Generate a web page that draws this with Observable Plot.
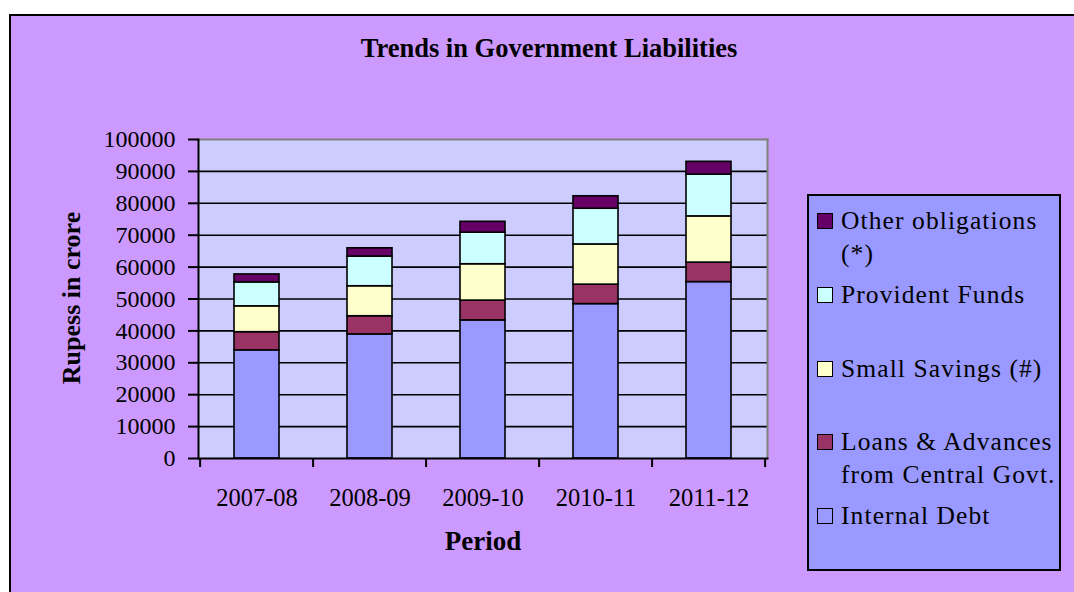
<!DOCTYPE html>
<html><head><meta charset="utf-8">
<script src="https://cdn.jsdelivr.net/npm/d3@7"></script>
<script src="https://cdn.jsdelivr.net/npm/@observablehq/plot@0.6"></script>
<style>
body{margin:0;background:#fff;width:1074px;height:592px;overflow:hidden;position:relative;font-family:"Liberation Serif","Times New Roman",serif;}
#frame{position:absolute;left:9px;top:14px;width:1080px;height:600px;background:#CC99FF;border-left:2px solid #000;border-top:2px solid #000;}
#chart{position:absolute;left:0;top:0;}
#chart svg{background:transparent;}
#legend{position:absolute;left:807px;top:194px;width:250px;height:373px;background:#9999FF;border:2px solid #000;box-sizing:content-box;}
.item{position:absolute;left:8px;font-family:"Liberation Serif","Times New Roman",serif;font-size:25.5px;letter-spacing:1.1px;line-height:33px;color:#000;white-space:nowrap;}
.sw{position:absolute;left:0;top:9px;width:14px;height:14px;border:1px solid #000;}
.lbl{position:absolute;left:24px;top:0;}
</style></head>
<body>
<div id="frame"></div>
<div id="chart"></div>
<div id="legend"></div>
<script>
const periods = ["2007-08", "2008-09", "2009-10", "2010-11", "2011-12"];
const seriesNames = ["Internal Debt", "Loans & Advances from Central Govt.", "Small Savings (#)", "Provident Funds", "Other obligations (*)"];
const legendLines = [["Internal Debt"], ["Loans & Advances", "from Central Govt."], ["Small Savings (#)"], ["Provident Funds"], ["Other obligations", "(*)"]];
const internalDebt = [33900, 38900, 43300, 48400, 55300];
const loansAdvances = [5700, 5700, 6200, 6100, 6100];
const smallSavings = [8100, 9400, 11400, 12600, 14500];
const providentFunds = [7500, 9300, 9900, 11200, 13100];
const otherObligations = [2500, 2600, 3400, 3900, 4000];
const yTicks = [0, 10000, 20000, 30000, 40000, 50000, 60000, 70000, 80000, 90000, 100000];
const colors = ["#9999FF", "#993366", "#FFFFCC", "#CCFFFF", "#660066"];

const seriesValues = [internalDebt, loansAdvances, smallSavings, providentFunds, otherObligations];
const table = [];
seriesNames.forEach((s, si) => periods.forEach((p, pi) => table.push({period: p, series: s, value: seriesValues[si][pi]})));

function boundaryTicks(index, scales, values, dims) {
  const g = d3.create("svg:g");
  const x = scales.x;
  const step = x(periods[1]) - x(periods[0]);
  const yb = dims.height - dims.marginBottom;
  const xs = periods.map(p => x(p) - 0.3 * step).concat([x(periods[periods.length - 1]) + 0.7 * step]);
  xs.forEach(v => g.append("line").attr("x1", v).attr("x2", v).attr("y1", yb).attr("y2", yb + 9).attr("stroke", "#000").attr("stroke-width", 2));
  return g.node();
}

const chart = Plot.plot({
  width: 1074, height: 592,
  marginLeft: 198, marginRight: 307, marginTop: 139, marginBottom: 134,
  style: {background: "transparent", fontFamily: "'Liberation Serif', 'Times New Roman', serif", color: "#000"},
  x: {domain: periods, paddingInner: 0.6, paddingOuter: 0.3, axis: null},
  y: {domain: [0, 100000], axis: null},
  color: {domain: seriesNames, range: colors},
  marks: [
    Plot.frame({fill: "#CCCCFF", stroke: null}),
    Plot.ruleY(yTicks.slice(1, -1), {stroke: "#000", strokeWidth: 1.6}),
    Plot.frame({anchor: "top", stroke: "#808080", strokeWidth: 2}),
    Plot.frame({anchor: "right", stroke: "#808080", strokeWidth: 2}),
    Plot.barY(table, {x: "period", y: "value", fill: "series", stroke: "#000", strokeWidth: 1.6}),
    Plot.frame({anchor: "left", stroke: "#000", strokeWidth: 2}),
    Plot.frame({anchor: "bottom", stroke: "#000", strokeWidth: 2}),
    Plot.axisY({ticks: yTicks, tickFormat: d => String(d), tickSize: 10, tickPadding: 13, fontSize: 24, strokeWidth: 2, label: null}),
    Plot.axisX({tickSize: 0, tickPadding: 30, fontSize: 24.5, label: null}),
    boundaryTicks,
    Plot.text(["Trends in Government Liabilities"], {frameAnchor: "top", lineAnchor: "middle", textAnchor: "middle", dx: 66, dy: -91, fontSize: 26.5, fontWeight: "bold"}),
    Plot.text(["Rupess in crore"], {frameAnchor: "left", lineAnchor: "middle", textAnchor: "middle", dx: -127, dy: -1, rotate: -90, fontSize: 26, fontWeight: "bold"}),
    Plot.text(["Period"], {frameAnchor: "bottom", lineAnchor: "middle", textAnchor: "middle", dy: 83, fontSize: 27, fontWeight: "bold"})
  ]
});
document.getElementById("chart").appendChild(chart);

const legend = document.getElementById("legend");
const order = [4, 3, 2, 1, 0];
order.forEach((si, k) => {
  const it = document.createElement("div");
  it.className = "item";
  it.style.top = (8 + k * 73.75) + "px";
  const sw = document.createElement("div");
  sw.className = "sw";
  sw.style.background = colors[si];
  const lb = document.createElement("div");
  lb.className = "lbl";
  lb.innerHTML = legendLines[si].map(s => s.replace("&", "&amp;")).join("<br>");
  it.appendChild(sw); it.appendChild(lb);
  legend.appendChild(it);
});
</script>
</body></html>
